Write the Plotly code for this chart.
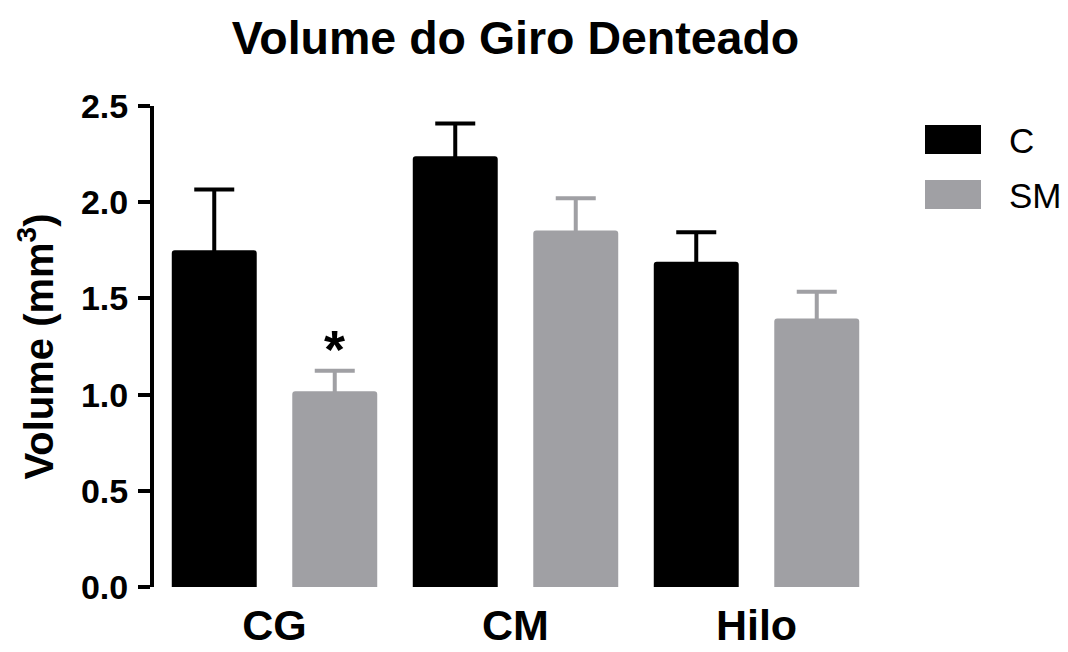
import plotly.graph_objects as go

# Dentate gyrus volume per region (mean with SEM)
regions = ["CG", "CM", "Hilo"]
groups = ["C", "SM"]
c_vals = [1.750, 2.239, 1.690]
c_err = [0.316, 0.170, 0.154]
sm_vals = [1.018, 1.853, 1.396]
sm_err = [0.106, 0.168, 0.139]
colors = ["#000000", "#A0A0A4"]

FONT = "Liberation Sans, Arial, Helvetica, sans-serif"
W, H = 1068, 652
M_L, M_R, M_T, M_B = 154, 191, 106, 65

fig = go.Figure()
for name, vals, errs, col in zip(groups, [c_vals, sm_vals], [c_err, sm_err], colors):
    fig.add_trace(go.Bar(
        x=regions, y=vals, name=name,
        marker=dict(color=col, line=dict(width=0), cornerradius=3),
        error_y=dict(type="data", array=errs, symmetric=True,
                     color=col, thickness=4, width=20),
        showlegend=False,
    ))

# significance marker above the SM bar of CG
fig.add_annotation(
    x=0.25, y=sm_vals[0] + sm_err[0], xref="x", yref="y",
    text="<b>*</b>", showarrow=False, yanchor="bottom", yshift=-10,
    font=dict(family=FONT, size=54, color="black"),
)

# legend drawn as swatches + labels in the right margin
plot_w = W - M_L - M_R
plot_h = H - M_T - M_B


def px_x(px):
    return (px - M_L) / plot_w


def px_y(py):
    return (H - M_B - py) / plot_h


legend_rows = [(125, 154), (180, 209)]
for (top, bot), name, col in zip(legend_rows, groups, colors):
    fig.add_shape(type="rect", xref="paper", yref="paper",
                  x0=px_x(925), x1=px_x(981), y0=px_y(bot), y1=px_y(top),
                  fillcolor=col, line=dict(width=0))
    fig.add_annotation(x=px_x(1007), y=px_y((top + bot) / 2 + 1),
                       xref="paper", yref="paper", text=name, showarrow=False,
                       xanchor="left", yanchor="middle",
                       font=dict(family=FONT, size=35, color="black"))

fig.update_layout(
    width=W, height=H,
    margin=dict(l=M_L, r=M_R, t=M_T, b=M_B, pad=0, autoexpand=False),
    paper_bgcolor="white", plot_bgcolor="white",
    barmode="group", bargap=0.0, bargroupgap=0.295,
    font=dict(family=FONT, color="black"),
    title=dict(text="<b>Volume do Giro Denteado</b>", x=0.5, xref="paper",
               xanchor="center", y=1 - 38 / H, yref="container", yanchor="middle",
               font=dict(family=FONT, size=46.5, color="black")),
    xaxis=dict(range=[-0.5, 2.5], showline=False, ticks="", showgrid=False,
               zeroline=False, ticklabelstandoff=9, automargin=False,
               tickfont=dict(family=FONT, size=43, color="black", weight="bold")),
    yaxis=dict(range=[0, 2.5], tick0=0, dtick=0.5, tickformat=".1f",
               showline=True, linewidth=4, linecolor="black",
               ticks="outside", ticklen=12, tickwidth=4, tickcolor="black",
               showgrid=False, zeroline=False, ticklabelstandoff=3,
               automargin=False,
               tickfont=dict(family=FONT, size=34, color="black", weight="bold"),
               title=dict(text="<b>Volume (mm<sup>3</sup>)</b>", standoff=16,
                          font=dict(family=FONT, size=40, color="black"))),
)

fig.write_html("out.html")
